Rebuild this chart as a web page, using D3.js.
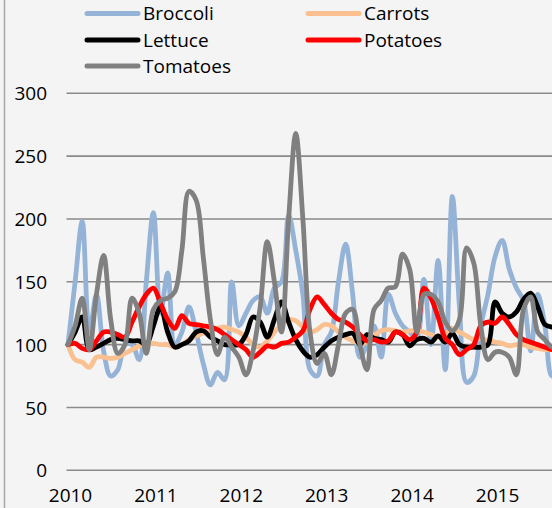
<!DOCTYPE html>
<html lang="en">
	<head>
		<meta charset="utf-8">
		<title>Vegetable prices</title>
		<script type="text/javascript" src="https://cdn.jsdelivr.net/npm/d3@7"></script>
		<style type="text/css">
			body { margin: 0; background: #f4f4f4; }
			svg { display: block; }
			.axis text, .legend text {
				font-family: "Open Sans", sans-serif;
				font-size: 19px;
				fill: #000;
			}
			.axis path { display: none; }
			.axis line { display: none; }
			.grid line {
				stroke: #8a8a8a;
				stroke-width: 1.6;
			}
			.series {
				fill: none;
				stroke-width: 4.8;
				stroke-linejoin: round;
				stroke-linecap: round;
			}
		</style>
	</head>
	<body>
		<script type="text/javascript">
			var w = 552; //width
			var h = 508; //height

			// monthly index from Jan 2010
			var years = [2010, 2011, 2012, 2013, 2014, 2015];
			var yTicks = [0, 50, 100, 150, 200, 250, 300];
			var seriesNames = ["Broccoli", "Carrots", "Lettuce", "Potatoes", "Tomatoes"];
			var seriesColors = ["#95b3d7", "#fac090", "#000000", "#ff0000", "#808080"];

			var broccoli = [100, 150, 198, 110, 140, 95, 75, 80, 100, 100, 88, 150,
				205, 125, 157, 100, 110, 130, 110, 85, 68, 78, 72, 150,
				115, 125, 135, 138, 125, 145, 150, 203, 175, 140, 80, 75,
				100, 110, 150, 180, 140, 90, 100, 115, 90, 140, 125, 115,
				110, 105, 152, 100, 167, 80, 218, 130, 70, 75, 115, 140,
				170, 183, 160, 145, 135, 95, 140, 115, 75, 80];
			var carrots = [100, 88, 86, 82, 90, 90, 89, 90, 93, 96, 99, 100,
				101, 100, 100, 98, 100, 104, 107, 109, 111, 113, 114, 112,
				110, 106, 100, 98, 103, 110, 116, 120, 119, 114, 110, 112,
				116, 115, 110, 106, 103, 101, 102, 107, 111, 112, 111, 110,
				111, 111, 110, 108, 106, 108, 113, 110, 107, 104, 105, 103,
				102, 101, 99, 100, 100, 98, 97, 96, 96, 96];
			var lettuce = [100, 110, 122, 96, 98, 101, 104, 105, 104, 103, 103, 100,
				115, 130, 110, 98, 100, 103, 110, 111, 106, 103, 100, 100,
				100, 108, 122, 118, 106, 120, 134, 118, 104, 95, 90, 92,
				98, 103, 106, 108, 109, 100, 108, 105, 104, 102, 110, 108,
				99, 104, 105, 102, 107, 102, 109, 100, 98, 98, 98, 100,
				134, 125, 122, 126, 136, 141, 130, 116, 114, 114];
			var potatoes = [100, 101, 97, 96, 103, 110, 110, 108, 106, 118, 130, 140,
				145, 133, 120, 113, 123, 117, 116, 115, 114, 112, 108, 104,
				100, 96, 90, 94, 99, 98, 101, 102, 106, 111, 128, 138,
				132, 125, 120, 118, 114, 108, 103, 104, 102, 103, 110, 108,
				104, 110, 145, 137, 122, 105, 100, 92, 96, 100, 115, 118,
				117, 122, 116, 108, 104, 102, 100, 98, 96, 96];
			var tomatoes = [100, 115, 137, 96, 140, 171, 120, 93, 100, 137, 125, 93,
				128, 135, 137, 142, 175, 222, 215, 170, 120, 92, 106, 98,
				90, 76, 95, 130, 182, 150, 110, 200, 268, 200, 110, 85,
				93, 76, 100, 125, 128, 100, 80, 128, 135, 145, 146, 172,
				160, 110, 140, 140, 134, 118, 111, 120, 177, 165, 115, 88,
				94, 94, 90, 76, 128, 138, 110, 104, 98, 98];

			var seriesValues = [broccoli, carrots, lettuce, potatoes, tomatoes];

			var svg = d3.select("body")
				.append("svg")
				.attr("width", w)
				.attr("height", h);

			svg.append("rect")
				.attr("width", w)
				.attr("height", h)
				.attr("fill", "#f4f4f4");

			// left frame edge
			svg.append("line")
				.attr("x1", 4.5).attr("x2", 4.5)
				.attr("y1", 0).attr("y2", h)
				.attr("stroke", "#a6a6a6")
				.attr("stroke-width", 1.5);

			var xScale = d3.scaleLinear()
				.domain([0, 68])
				.range([68, 552]);

			var yScale = d3.scaleLinear()
				.domain([0, 300])
				.range([470.3, 93.3]);

			// gridlines
			svg.append("g")
				.attr("class", "grid")
				.selectAll("line")
				.data(yTicks)
				.enter()
				.append("line")
				.attr("x1", 66.5)
				.attr("x2", w)
				.attr("y1", function(d) { return yScale(d); })
				.attr("y2", function(d) { return yScale(d); });

			var yAxis = d3.axisLeft(yScale)
				.tickValues(yTicks)
				.tickSize(0)
				.tickPadding(0);

			svg.append("g")
				.attr("class", "axis")
				.attr("transform", "translate(47,0)")
				.call(yAxis)
				.selectAll("text")
				.attr("dy", "0.35em");

			var xAxis = d3.axisBottom(xScale)
				.tickValues(years.map(function(y, i) { return i * 12; }))
				.tickFormat(function(d, i) { return years[i]; })
				.tickSize(0)
				.tickPadding(0);

			svg.append("g")
				.attr("class", "axis")
				.attr("transform", "translate(2,488)")
				.call(xAxis);

			var line = d3.line()
				.x(function(d, i) { return xScale(i); })
				.y(function(d) { return yScale(d); })
				.curve(d3.curveCatmullRom.alpha(0.5));

			svg.append("g")
				.selectAll("path")
				.data(seriesValues)
				.enter()
				.append("path")
				.attr("class", "series")
				.attr("stroke", function(d, i) { return seriesColors[i]; })
				.attr("d", line);

			// legend
			var legendPos = [[87, 13.5], [308, 13.5], [87, 40], [308, 40], [87, 66]];
			var legend = svg.append("g")
				.attr("class", "legend")
				.selectAll("g")
				.data(seriesNames)
				.enter()
				.append("g")
				.attr("transform", function(d, i) {
					return "translate(" + legendPos[i][0] + "," + legendPos[i][1] + ")";
				});

			legend.append("line")
				.attr("x1", 0)
				.attr("x2", 51)
				.attr("stroke", function(d, i) { return seriesColors[i]; })
				.attr("stroke-width", 5)
				.attr("stroke-linecap", "round");

			legend.append("text")
				.attr("x", 56)
				.attr("dy", "0.35em")
				.text(function(d) { return d; });
		</script>
	</body>
</html>
